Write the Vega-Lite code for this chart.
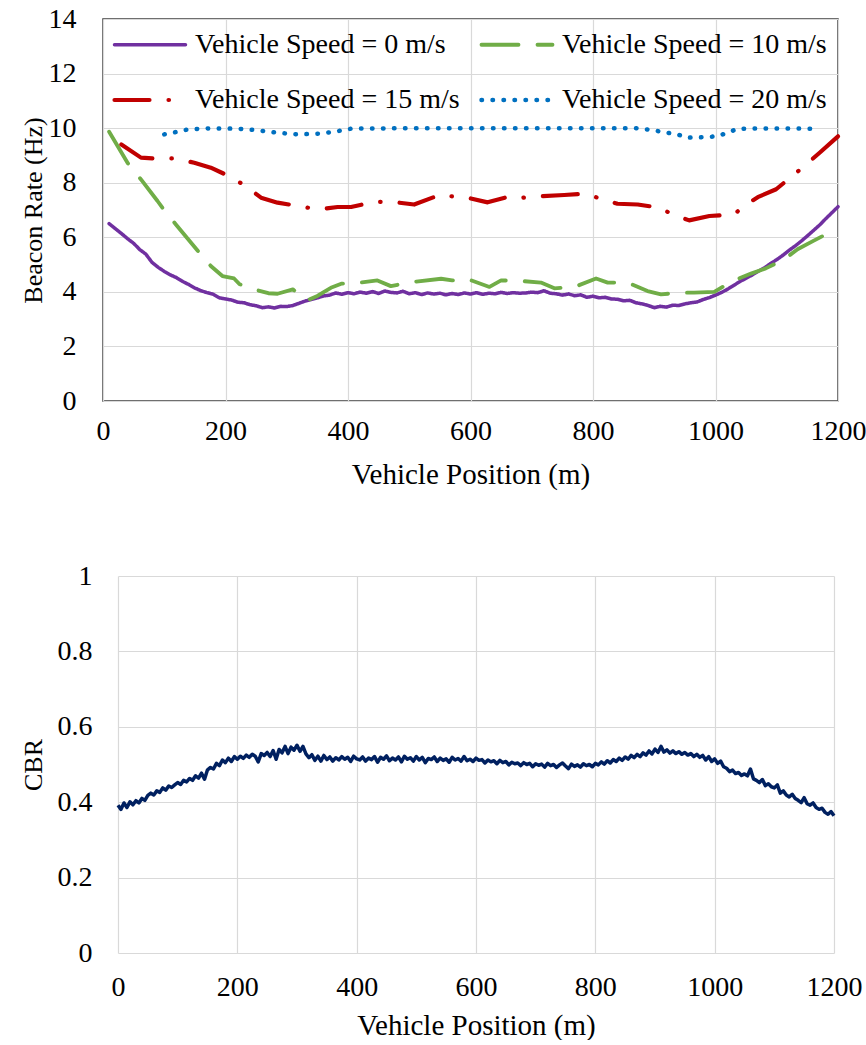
{
  "$schema": "https://vega.github.io/schema/vega-lite/v6.json",
  "padding": {"left": 19, "top": 4, "right": 0, "bottom": 0},
  "autosize": {"type": "pad"},
  "background": "white",
  "spacing": 72,
  "config": {
    "font": "Times New Roman, Liberation Serif, DejaVu Serif, serif",
    "view": {"stroke": "#404040", "strokeWidth": 1.5},
    "axis": {
      "labelFont": "Times New Roman, Liberation Serif, DejaVu Serif, serif",
      "titleFont": "Times New Roman, Liberation Serif, DejaVu Serif, serif",
      "labelFontSize": 28,
      "titleFontSize": 29,
      "labelColor": "#000000",
      "titleColor": "#000000",
      "titleFontWeight": "normal",
      "labelFlush": false,
      "domain": false,
      "ticks": false,
      "gridColor": "#d9d9d9",
      "gridWidth": 1.2
    },
    "legend": {
      "labelFont": "Times New Roman, Liberation Serif, DejaVu Serif, serif"
    }
  },
  "datasets": {
    "rate": [
      {"x": 10, "rate": 6.50, "series": "Vehicle Speed = 0 m/s"},
      {"x": 20, "rate": 6.32, "series": "Vehicle Speed = 0 m/s"},
      {"x": 30, "rate": 6.14, "series": "Vehicle Speed = 0 m/s"},
      {"x": 40, "rate": 5.95, "series": "Vehicle Speed = 0 m/s"},
      {"x": 50, "rate": 5.78, "series": "Vehicle Speed = 0 m/s"},
      {"x": 60, "rate": 5.55, "series": "Vehicle Speed = 0 m/s"},
      {"x": 70, "rate": 5.38, "series": "Vehicle Speed = 0 m/s"},
      {"x": 80, "rate": 5.08, "series": "Vehicle Speed = 0 m/s"},
      {"x": 90, "rate": 4.90, "series": "Vehicle Speed = 0 m/s"},
      {"x": 100, "rate": 4.75, "series": "Vehicle Speed = 0 m/s"},
      {"x": 110, "rate": 4.62, "series": "Vehicle Speed = 0 m/s"},
      {"x": 120, "rate": 4.52, "series": "Vehicle Speed = 0 m/s"},
      {"x": 130, "rate": 4.38, "series": "Vehicle Speed = 0 m/s"},
      {"x": 140, "rate": 4.27, "series": "Vehicle Speed = 0 m/s"},
      {"x": 150, "rate": 4.14, "series": "Vehicle Speed = 0 m/s"},
      {"x": 160, "rate": 4.04, "series": "Vehicle Speed = 0 m/s"},
      {"x": 170, "rate": 3.97, "series": "Vehicle Speed = 0 m/s"},
      {"x": 180, "rate": 3.91, "series": "Vehicle Speed = 0 m/s"},
      {"x": 190, "rate": 3.78, "series": "Vehicle Speed = 0 m/s"},
      {"x": 200, "rate": 3.74, "series": "Vehicle Speed = 0 m/s"},
      {"x": 210, "rate": 3.70, "series": "Vehicle Speed = 0 m/s"},
      {"x": 220, "rate": 3.62, "series": "Vehicle Speed = 0 m/s"},
      {"x": 230, "rate": 3.60, "series": "Vehicle Speed = 0 m/s"},
      {"x": 240, "rate": 3.53, "series": "Vehicle Speed = 0 m/s"},
      {"x": 250, "rate": 3.49, "series": "Vehicle Speed = 0 m/s"},
      {"x": 260, "rate": 3.42, "series": "Vehicle Speed = 0 m/s"},
      {"x": 270, "rate": 3.45, "series": "Vehicle Speed = 0 m/s"},
      {"x": 280, "rate": 3.41, "series": "Vehicle Speed = 0 m/s"},
      {"x": 290, "rate": 3.47, "series": "Vehicle Speed = 0 m/s"},
      {"x": 300, "rate": 3.46, "series": "Vehicle Speed = 0 m/s"},
      {"x": 310, "rate": 3.50, "series": "Vehicle Speed = 0 m/s"},
      {"x": 320, "rate": 3.58, "series": "Vehicle Speed = 0 m/s"},
      {"x": 330, "rate": 3.66, "series": "Vehicle Speed = 0 m/s"},
      {"x": 340, "rate": 3.72, "series": "Vehicle Speed = 0 m/s"},
      {"x": 350, "rate": 3.78, "series": "Vehicle Speed = 0 m/s"},
      {"x": 360, "rate": 3.85, "series": "Vehicle Speed = 0 m/s"},
      {"x": 370, "rate": 3.88, "series": "Vehicle Speed = 0 m/s"},
      {"x": 380, "rate": 3.96, "series": "Vehicle Speed = 0 m/s"},
      {"x": 390, "rate": 3.91, "series": "Vehicle Speed = 0 m/s"},
      {"x": 400, "rate": 3.97, "series": "Vehicle Speed = 0 m/s"},
      {"x": 410, "rate": 3.93, "series": "Vehicle Speed = 0 m/s"},
      {"x": 420, "rate": 3.99, "series": "Vehicle Speed = 0 m/s"},
      {"x": 430, "rate": 3.95, "series": "Vehicle Speed = 0 m/s"},
      {"x": 440, "rate": 4.01, "series": "Vehicle Speed = 0 m/s"},
      {"x": 450, "rate": 3.94, "series": "Vehicle Speed = 0 m/s"},
      {"x": 460, "rate": 4.03, "series": "Vehicle Speed = 0 m/s"},
      {"x": 470, "rate": 3.98, "series": "Vehicle Speed = 0 m/s"},
      {"x": 480, "rate": 3.96, "series": "Vehicle Speed = 0 m/s"},
      {"x": 490, "rate": 4.02, "series": "Vehicle Speed = 0 m/s"},
      {"x": 500, "rate": 3.93, "series": "Vehicle Speed = 0 m/s"},
      {"x": 510, "rate": 3.97, "series": "Vehicle Speed = 0 m/s"},
      {"x": 520, "rate": 3.90, "series": "Vehicle Speed = 0 m/s"},
      {"x": 530, "rate": 3.96, "series": "Vehicle Speed = 0 m/s"},
      {"x": 540, "rate": 3.92, "series": "Vehicle Speed = 0 m/s"},
      {"x": 550, "rate": 3.95, "series": "Vehicle Speed = 0 m/s"},
      {"x": 560, "rate": 3.89, "series": "Vehicle Speed = 0 m/s"},
      {"x": 570, "rate": 3.94, "series": "Vehicle Speed = 0 m/s"},
      {"x": 580, "rate": 3.90, "series": "Vehicle Speed = 0 m/s"},
      {"x": 590, "rate": 3.96, "series": "Vehicle Speed = 0 m/s"},
      {"x": 600, "rate": 3.92, "series": "Vehicle Speed = 0 m/s"},
      {"x": 610, "rate": 3.97, "series": "Vehicle Speed = 0 m/s"},
      {"x": 620, "rate": 3.91, "series": "Vehicle Speed = 0 m/s"},
      {"x": 630, "rate": 3.95, "series": "Vehicle Speed = 0 m/s"},
      {"x": 640, "rate": 3.93, "series": "Vehicle Speed = 0 m/s"},
      {"x": 650, "rate": 3.98, "series": "Vehicle Speed = 0 m/s"},
      {"x": 660, "rate": 3.94, "series": "Vehicle Speed = 0 m/s"},
      {"x": 670, "rate": 3.97, "series": "Vehicle Speed = 0 m/s"},
      {"x": 680, "rate": 3.95, "series": "Vehicle Speed = 0 m/s"},
      {"x": 690, "rate": 3.96, "series": "Vehicle Speed = 0 m/s"},
      {"x": 700, "rate": 3.99, "series": "Vehicle Speed = 0 m/s"},
      {"x": 710, "rate": 3.97, "series": "Vehicle Speed = 0 m/s"},
      {"x": 720, "rate": 4.04, "series": "Vehicle Speed = 0 m/s"},
      {"x": 730, "rate": 3.95, "series": "Vehicle Speed = 0 m/s"},
      {"x": 740, "rate": 3.93, "series": "Vehicle Speed = 0 m/s"},
      {"x": 750, "rate": 3.88, "series": "Vehicle Speed = 0 m/s"},
      {"x": 760, "rate": 3.92, "series": "Vehicle Speed = 0 m/s"},
      {"x": 770, "rate": 3.86, "series": "Vehicle Speed = 0 m/s"},
      {"x": 780, "rate": 3.89, "series": "Vehicle Speed = 0 m/s"},
      {"x": 790, "rate": 3.80, "series": "Vehicle Speed = 0 m/s"},
      {"x": 800, "rate": 3.84, "series": "Vehicle Speed = 0 m/s"},
      {"x": 810, "rate": 3.78, "series": "Vehicle Speed = 0 m/s"},
      {"x": 820, "rate": 3.80, "series": "Vehicle Speed = 0 m/s"},
      {"x": 830, "rate": 3.74, "series": "Vehicle Speed = 0 m/s"},
      {"x": 840, "rate": 3.73, "series": "Vehicle Speed = 0 m/s"},
      {"x": 850, "rate": 3.67, "series": "Vehicle Speed = 0 m/s"},
      {"x": 860, "rate": 3.69, "series": "Vehicle Speed = 0 m/s"},
      {"x": 870, "rate": 3.60, "series": "Vehicle Speed = 0 m/s"},
      {"x": 880, "rate": 3.56, "series": "Vehicle Speed = 0 m/s"},
      {"x": 890, "rate": 3.50, "series": "Vehicle Speed = 0 m/s"},
      {"x": 900, "rate": 3.42, "series": "Vehicle Speed = 0 m/s"},
      {"x": 910, "rate": 3.47, "series": "Vehicle Speed = 0 m/s"},
      {"x": 920, "rate": 3.44, "series": "Vehicle Speed = 0 m/s"},
      {"x": 930, "rate": 3.51, "series": "Vehicle Speed = 0 m/s"},
      {"x": 940, "rate": 3.50, "series": "Vehicle Speed = 0 m/s"},
      {"x": 950, "rate": 3.56, "series": "Vehicle Speed = 0 m/s"},
      {"x": 960, "rate": 3.60, "series": "Vehicle Speed = 0 m/s"},
      {"x": 970, "rate": 3.63, "series": "Vehicle Speed = 0 m/s"},
      {"x": 980, "rate": 3.72, "series": "Vehicle Speed = 0 m/s"},
      {"x": 990, "rate": 3.79, "series": "Vehicle Speed = 0 m/s"},
      {"x": 1000, "rate": 3.88, "series": "Vehicle Speed = 0 m/s"},
      {"x": 1010, "rate": 3.98, "series": "Vehicle Speed = 0 m/s"},
      {"x": 1020, "rate": 4.10, "series": "Vehicle Speed = 0 m/s"},
      {"x": 1030, "rate": 4.24, "series": "Vehicle Speed = 0 m/s"},
      {"x": 1040, "rate": 4.38, "series": "Vehicle Speed = 0 m/s"},
      {"x": 1050, "rate": 4.50, "series": "Vehicle Speed = 0 m/s"},
      {"x": 1060, "rate": 4.62, "series": "Vehicle Speed = 0 m/s"},
      {"x": 1070, "rate": 4.76, "series": "Vehicle Speed = 0 m/s"},
      {"x": 1080, "rate": 4.88, "series": "Vehicle Speed = 0 m/s"},
      {"x": 1090, "rate": 5.04, "series": "Vehicle Speed = 0 m/s"},
      {"x": 1100, "rate": 5.18, "series": "Vehicle Speed = 0 m/s"},
      {"x": 1110, "rate": 5.34, "series": "Vehicle Speed = 0 m/s"},
      {"x": 1120, "rate": 5.52, "series": "Vehicle Speed = 0 m/s"},
      {"x": 1130, "rate": 5.68, "series": "Vehicle Speed = 0 m/s"},
      {"x": 1140, "rate": 5.86, "series": "Vehicle Speed = 0 m/s"},
      {"x": 1150, "rate": 6.05, "series": "Vehicle Speed = 0 m/s"},
      {"x": 1160, "rate": 6.25, "series": "Vehicle Speed = 0 m/s"},
      {"x": 1170, "rate": 6.45, "series": "Vehicle Speed = 0 m/s"},
      {"x": 1180, "rate": 6.68, "series": "Vehicle Speed = 0 m/s"},
      {"x": 1190, "rate": 6.90, "series": "Vehicle Speed = 0 m/s"},
      {"x": 1200, "rate": 7.12, "series": "Vehicle Speed = 0 m/s"},

      {"x": 10, "rate": 9.87, "series": "Vehicle Speed = 10 m/s"},
      {"x": 40, "rate": 8.73, "series": "Vehicle Speed = 10 m/s"},
      {"x": 62, "rate": 8.12, "series": "Vehicle Speed = 10 m/s"},
      {"x": 89, "rate": 7.33, "series": "Vehicle Speed = 10 m/s"},
      {"x": 97, "rate": 7.08, "series": "Vehicle Speed = 10 m/s"},
      {"x": 119, "rate": 6.47, "series": "Vehicle Speed = 10 m/s"},
      {"x": 155, "rate": 5.50, "series": "Vehicle Speed = 10 m/s"},
      {"x": 176, "rate": 4.95, "series": "Vehicle Speed = 10 m/s"},
      {"x": 195, "rate": 4.58, "series": "Vehicle Speed = 10 m/s"},
      {"x": 214, "rate": 4.49, "series": "Vehicle Speed = 10 m/s"},
      {"x": 223, "rate": 4.28, "series": "Vehicle Speed = 10 m/s"},
      {"x": 252, "rate": 4.06, "series": "Vehicle Speed = 10 m/s"},
      {"x": 270, "rate": 3.95, "series": "Vehicle Speed = 10 m/s"},
      {"x": 285, "rate": 3.93, "series": "Vehicle Speed = 10 m/s"},
      {"x": 310, "rate": 4.09, "series": "Vehicle Speed = 10 m/s"},
      {"x": 334, "rate": 3.69, "series": "Vehicle Speed = 10 m/s"},
      {"x": 350, "rate": 3.85, "series": "Vehicle Speed = 10 m/s"},
      {"x": 372, "rate": 4.15, "series": "Vehicle Speed = 10 m/s"},
      {"x": 389, "rate": 4.30, "series": "Vehicle Speed = 10 m/s"},
      {"x": 421, "rate": 4.34, "series": "Vehicle Speed = 10 m/s"},
      {"x": 448, "rate": 4.42, "series": "Vehicle Speed = 10 m/s"},
      {"x": 470, "rate": 4.21, "series": "Vehicle Speed = 10 m/s"},
      {"x": 490, "rate": 4.30, "series": "Vehicle Speed = 10 m/s"},
      {"x": 508, "rate": 4.37, "series": "Vehicle Speed = 10 m/s"},
      {"x": 552, "rate": 4.48, "series": "Vehicle Speed = 10 m/s"},
      {"x": 570, "rate": 4.42, "series": "Vehicle Speed = 10 m/s"},
      {"x": 595, "rate": 4.47, "series": "Vehicle Speed = 10 m/s"},
      {"x": 631, "rate": 4.18, "series": "Vehicle Speed = 10 m/s"},
      {"x": 650, "rate": 4.42, "series": "Vehicle Speed = 10 m/s"},
      {"x": 682, "rate": 4.40, "series": "Vehicle Speed = 10 m/s"},
      {"x": 715, "rate": 4.34, "series": "Vehicle Speed = 10 m/s"},
      {"x": 737, "rate": 4.13, "series": "Vehicle Speed = 10 m/s"},
      {"x": 770, "rate": 4.18, "series": "Vehicle Speed = 10 m/s"},
      {"x": 805, "rate": 4.49, "series": "Vehicle Speed = 10 m/s"},
      {"x": 824, "rate": 4.34, "series": "Vehicle Speed = 10 m/s"},
      {"x": 857, "rate": 4.34, "series": "Vehicle Speed = 10 m/s"},
      {"x": 889, "rate": 4.03, "series": "Vehicle Speed = 10 m/s"},
      {"x": 911, "rate": 3.91, "series": "Vehicle Speed = 10 m/s"},
      {"x": 944, "rate": 3.97, "series": "Vehicle Speed = 10 m/s"},
      {"x": 965, "rate": 3.97, "series": "Vehicle Speed = 10 m/s"},
      {"x": 998, "rate": 4.00, "series": "Vehicle Speed = 10 m/s"},
      {"x": 1028, "rate": 4.40, "series": "Vehicle Speed = 10 m/s"},
      {"x": 1058, "rate": 4.67, "series": "Vehicle Speed = 10 m/s"},
      {"x": 1082, "rate": 4.86, "series": "Vehicle Speed = 10 m/s"},
      {"x": 1112, "rate": 5.19, "series": "Vehicle Speed = 10 m/s"},
      {"x": 1134, "rate": 5.56, "series": "Vehicle Speed = 10 m/s"},
      {"x": 1159, "rate": 5.86, "series": "Vehicle Speed = 10 m/s"},
      {"x": 1191, "rate": 6.23, "series": "Vehicle Speed = 10 m/s"},
      {"x": 1200, "rate": 6.30, "series": "Vehicle Speed = 10 m/s"},

      {"x": 30, "rate": 9.40, "series": "Vehicle Speed = 15 m/s"},
      {"x": 62, "rate": 8.92, "series": "Vehicle Speed = 15 m/s"},
      {"x": 84, "rate": 8.89, "series": "Vehicle Speed = 15 m/s"},
      {"x": 119, "rate": 8.89, "series": "Vehicle Speed = 15 m/s"},
      {"x": 149, "rate": 8.73, "series": "Vehicle Speed = 15 m/s"},
      {"x": 176, "rate": 8.55, "series": "Vehicle Speed = 15 m/s"},
      {"x": 206, "rate": 8.24, "series": "Vehicle Speed = 15 m/s"},
      {"x": 233, "rate": 7.88, "series": "Vehicle Speed = 15 m/s"},
      {"x": 258, "rate": 7.45, "series": "Vehicle Speed = 15 m/s"},
      {"x": 285, "rate": 7.27, "series": "Vehicle Speed = 15 m/s"},
      {"x": 318, "rate": 7.15, "series": "Vehicle Speed = 15 m/s"},
      {"x": 350, "rate": 7.02, "series": "Vehicle Speed = 15 m/s"},
      {"x": 383, "rate": 7.11, "series": "Vehicle Speed = 15 m/s"},
      {"x": 405, "rate": 7.11, "series": "Vehicle Speed = 15 m/s"},
      {"x": 443, "rate": 7.30, "series": "Vehicle Speed = 15 m/s"},
      {"x": 476, "rate": 7.29, "series": "Vehicle Speed = 15 m/s"},
      {"x": 508, "rate": 7.20, "series": "Vehicle Speed = 15 m/s"},
      {"x": 552, "rate": 7.57, "series": "Vehicle Speed = 15 m/s"},
      {"x": 565, "rate": 7.51, "series": "Vehicle Speed = 15 m/s"},
      {"x": 595, "rate": 7.45, "series": "Vehicle Speed = 15 m/s"},
      {"x": 628, "rate": 7.28, "series": "Vehicle Speed = 15 m/s"},
      {"x": 666, "rate": 7.51, "series": "Vehicle Speed = 15 m/s"},
      {"x": 685, "rate": 7.45, "series": "Vehicle Speed = 15 m/s"},
      {"x": 718, "rate": 7.51, "series": "Vehicle Speed = 15 m/s"},
      {"x": 753, "rate": 7.55, "series": "Vehicle Speed = 15 m/s"},
      {"x": 791, "rate": 7.60, "series": "Vehicle Speed = 15 m/s"},
      {"x": 807, "rate": 7.45, "series": "Vehicle Speed = 15 m/s"},
      {"x": 840, "rate": 7.23, "series": "Vehicle Speed = 15 m/s"},
      {"x": 873, "rate": 7.20, "series": "Vehicle Speed = 15 m/s"},
      {"x": 911, "rate": 7.08, "series": "Vehicle Speed = 15 m/s"},
      {"x": 927, "rate": 6.86, "series": "Vehicle Speed = 15 m/s"},
      {"x": 957, "rate": 6.62, "series": "Vehicle Speed = 15 m/s"},
      {"x": 990, "rate": 6.78, "series": "Vehicle Speed = 15 m/s"},
      {"x": 1031, "rate": 6.84, "series": "Vehicle Speed = 15 m/s"},
      {"x": 1044, "rate": 7.11, "series": "Vehicle Speed = 15 m/s"},
      {"x": 1069, "rate": 7.47, "series": "Vehicle Speed = 15 m/s"},
      {"x": 1099, "rate": 7.76, "series": "Vehicle Speed = 15 m/s"},
      {"x": 1145, "rate": 8.61, "series": "Vehicle Speed = 15 m/s"},
      {"x": 1170, "rate": 9.10, "series": "Vehicle Speed = 15 m/s"},
      {"x": 1200, "rate": 9.70, "series": "Vehicle Speed = 15 m/s"},

      {"x": 100, "rate": 9.77, "series": "Vehicle Speed = 20 m/s"},
      {"x": 122, "rate": 9.87, "series": "Vehicle Speed = 20 m/s"},
      {"x": 138, "rate": 9.95, "series": "Vehicle Speed = 20 m/s"},
      {"x": 171, "rate": 9.99, "series": "Vehicle Speed = 20 m/s"},
      {"x": 220, "rate": 9.98, "series": "Vehicle Speed = 20 m/s"},
      {"x": 253, "rate": 9.92, "series": "Vehicle Speed = 20 m/s"},
      {"x": 285, "rate": 9.83, "series": "Vehicle Speed = 20 m/s"},
      {"x": 318, "rate": 9.77, "series": "Vehicle Speed = 20 m/s"},
      {"x": 356, "rate": 9.80, "series": "Vehicle Speed = 20 m/s"},
      {"x": 383, "rate": 9.89, "series": "Vehicle Speed = 20 m/s"},
      {"x": 405, "rate": 9.98, "series": "Vehicle Speed = 20 m/s"},
      {"x": 500, "rate": 10.0, "series": "Vehicle Speed = 20 m/s"},
      {"x": 700, "rate": 10.0, "series": "Vehicle Speed = 20 m/s"},
      {"x": 870, "rate": 10.0, "series": "Vehicle Speed = 20 m/s"},
      {"x": 889, "rate": 9.95, "series": "Vehicle Speed = 20 m/s"},
      {"x": 906, "rate": 9.89, "series": "Vehicle Speed = 20 m/s"},
      {"x": 938, "rate": 9.77, "series": "Vehicle Speed = 20 m/s"},
      {"x": 954, "rate": 9.65, "series": "Vehicle Speed = 20 m/s"},
      {"x": 987, "rate": 9.67, "series": "Vehicle Speed = 20 m/s"},
      {"x": 1003, "rate": 9.71, "series": "Vehicle Speed = 20 m/s"},
      {"x": 1020, "rate": 9.83, "series": "Vehicle Speed = 20 m/s"},
      {"x": 1036, "rate": 9.98, "series": "Vehicle Speed = 20 m/s"},
      {"x": 1100, "rate": 9.99, "series": "Vehicle Speed = 20 m/s"},
      {"x": 1160, "rate": 9.98, "series": "Vehicle Speed = 20 m/s"}
    ],
    "cbr": [
      {"x": 0, "c": 0.392}, {"x": 5, "c": 0.381}, {"x": 10, "c": 0.398}, {"x": 15, "c": 0.386}, {"x": 20, "c": 0.401},
      {"x": 25, "c": 0.393}, {"x": 30, "c": 0.404}, {"x": 35, "c": 0.398}, {"x": 40, "c": 0.410}, {"x": 45, "c": 0.405},
      {"x": 50, "c": 0.418}, {"x": 55, "c": 0.424}, {"x": 60, "c": 0.419}, {"x": 65, "c": 0.430}, {"x": 70, "c": 0.426},
      {"x": 75, "c": 0.438}, {"x": 80, "c": 0.432}, {"x": 85, "c": 0.443}, {"x": 90, "c": 0.439}, {"x": 95, "c": 0.446},
      {"x": 100, "c": 0.452}, {"x": 105, "c": 0.447}, {"x": 110, "c": 0.458}, {"x": 115, "c": 0.454}, {"x": 120, "c": 0.463},
      {"x": 125, "c": 0.458}, {"x": 130, "c": 0.470}, {"x": 135, "c": 0.464}, {"x": 140, "c": 0.477}, {"x": 145, "c": 0.461},
      {"x": 150, "c": 0.486}, {"x": 155, "c": 0.492}, {"x": 160, "c": 0.488}, {"x": 165, "c": 0.503}, {"x": 170, "c": 0.497},
      {"x": 175, "c": 0.512}, {"x": 180, "c": 0.505}, {"x": 185, "c": 0.517}, {"x": 190, "c": 0.508}, {"x": 195, "c": 0.521},
      {"x": 200, "c": 0.514}, {"x": 205, "c": 0.522}, {"x": 210, "c": 0.516}, {"x": 215, "c": 0.525}, {"x": 220, "c": 0.519},
      {"x": 225, "c": 0.527}, {"x": 230, "c": 0.522}, {"x": 235, "c": 0.507}, {"x": 240, "c": 0.529}, {"x": 245, "c": 0.524},
      {"x": 250, "c": 0.532}, {"x": 255, "c": 0.521}, {"x": 260, "c": 0.537}, {"x": 265, "c": 0.514}, {"x": 270, "c": 0.540},
      {"x": 275, "c": 0.531}, {"x": 280, "c": 0.548}, {"x": 285, "c": 0.529}, {"x": 290, "c": 0.546}, {"x": 295, "c": 0.538},
      {"x": 300, "c": 0.551}, {"x": 305, "c": 0.535}, {"x": 310, "c": 0.548}, {"x": 315, "c": 0.528}, {"x": 320, "c": 0.518},
      {"x": 325, "c": 0.526}, {"x": 330, "c": 0.511}, {"x": 335, "c": 0.522}, {"x": 340, "c": 0.509}, {"x": 345, "c": 0.524},
      {"x": 350, "c": 0.513}, {"x": 355, "c": 0.520}, {"x": 360, "c": 0.509}, {"x": 365, "c": 0.518}, {"x": 370, "c": 0.512},
      {"x": 375, "c": 0.521}, {"x": 380, "c": 0.514}, {"x": 385, "c": 0.519}, {"x": 390, "c": 0.508}, {"x": 395, "c": 0.522},
      {"x": 400, "c": 0.515}, {"x": 405, "c": 0.512}, {"x": 410, "c": 0.520}, {"x": 415, "c": 0.509}, {"x": 420, "c": 0.517},
      {"x": 425, "c": 0.513}, {"x": 430, "c": 0.521}, {"x": 435, "c": 0.506}, {"x": 440, "c": 0.519}, {"x": 445, "c": 0.514},
      {"x": 450, "c": 0.523}, {"x": 455, "c": 0.510}, {"x": 460, "c": 0.517}, {"x": 465, "c": 0.512}, {"x": 470, "c": 0.520},
      {"x": 475, "c": 0.507}, {"x": 480, "c": 0.522}, {"x": 485, "c": 0.514}, {"x": 490, "c": 0.518}, {"x": 495, "c": 0.509},
      {"x": 500, "c": 0.521}, {"x": 505, "c": 0.512}, {"x": 510, "c": 0.519}, {"x": 515, "c": 0.505}, {"x": 520, "c": 0.516},
      {"x": 525, "c": 0.513}, {"x": 530, "c": 0.520}, {"x": 535, "c": 0.508}, {"x": 540, "c": 0.517}, {"x": 545, "c": 0.511},
      {"x": 550, "c": 0.515}, {"x": 555, "c": 0.506}, {"x": 560, "c": 0.519}, {"x": 565, "c": 0.512}, {"x": 570, "c": 0.516},
      {"x": 575, "c": 0.509}, {"x": 580, "c": 0.521}, {"x": 585, "c": 0.510}, {"x": 590, "c": 0.514}, {"x": 595, "c": 0.508},
      {"x": 600, "c": 0.517}, {"x": 605, "c": 0.511}, {"x": 610, "c": 0.513}, {"x": 615, "c": 0.504}, {"x": 620, "c": 0.512},
      {"x": 625, "c": 0.507}, {"x": 630, "c": 0.510}, {"x": 635, "c": 0.502}, {"x": 640, "c": 0.511}, {"x": 645, "c": 0.505},
      {"x": 650, "c": 0.508}, {"x": 655, "c": 0.499}, {"x": 660, "c": 0.506}, {"x": 665, "c": 0.502}, {"x": 670, "c": 0.504},
      {"x": 675, "c": 0.497}, {"x": 680, "c": 0.505}, {"x": 685, "c": 0.500}, {"x": 690, "c": 0.503}, {"x": 695, "c": 0.494},
      {"x": 700, "c": 0.502}, {"x": 705, "c": 0.498}, {"x": 710, "c": 0.501}, {"x": 715, "c": 0.493}, {"x": 720, "c": 0.503},
      {"x": 725, "c": 0.497}, {"x": 730, "c": 0.500}, {"x": 735, "c": 0.492}, {"x": 740, "c": 0.499}, {"x": 745, "c": 0.504},
      {"x": 750, "c": 0.496}, {"x": 755, "c": 0.489}, {"x": 760, "c": 0.501}, {"x": 765, "c": 0.495}, {"x": 770, "c": 0.499},
      {"x": 775, "c": 0.493}, {"x": 780, "c": 0.502}, {"x": 785, "c": 0.497}, {"x": 790, "c": 0.500}, {"x": 795, "c": 0.494},
      {"x": 800, "c": 0.503}, {"x": 805, "c": 0.499}, {"x": 810, "c": 0.507}, {"x": 815, "c": 0.501}, {"x": 820, "c": 0.510},
      {"x": 825, "c": 0.504}, {"x": 830, "c": 0.513}, {"x": 835, "c": 0.508}, {"x": 840, "c": 0.517}, {"x": 845, "c": 0.511},
      {"x": 850, "c": 0.520}, {"x": 855, "c": 0.514}, {"x": 860, "c": 0.524}, {"x": 865, "c": 0.518}, {"x": 870, "c": 0.527},
      {"x": 875, "c": 0.521}, {"x": 880, "c": 0.531}, {"x": 885, "c": 0.525}, {"x": 890, "c": 0.536}, {"x": 895, "c": 0.528},
      {"x": 900, "c": 0.541}, {"x": 905, "c": 0.532}, {"x": 910, "c": 0.548}, {"x": 915, "c": 0.533}, {"x": 920, "c": 0.539},
      {"x": 925, "c": 0.530}, {"x": 930, "c": 0.536}, {"x": 935, "c": 0.529}, {"x": 940, "c": 0.534}, {"x": 945, "c": 0.527},
      {"x": 950, "c": 0.532}, {"x": 955, "c": 0.525}, {"x": 960, "c": 0.529}, {"x": 965, "c": 0.521}, {"x": 970, "c": 0.527},
      {"x": 975, "c": 0.519}, {"x": 980, "c": 0.524}, {"x": 985, "c": 0.512}, {"x": 990, "c": 0.521}, {"x": 995, "c": 0.508},
      {"x": 1000, "c": 0.515}, {"x": 1005, "c": 0.503}, {"x": 1010, "c": 0.509}, {"x": 1015, "c": 0.494}, {"x": 1020, "c": 0.490},
      {"x": 1025, "c": 0.481}, {"x": 1030, "c": 0.485}, {"x": 1035, "c": 0.476}, {"x": 1040, "c": 0.479}, {"x": 1045, "c": 0.471},
      {"x": 1050, "c": 0.475}, {"x": 1055, "c": 0.470}, {"x": 1060, "c": 0.488}, {"x": 1065, "c": 0.462}, {"x": 1070, "c": 0.458},
      {"x": 1075, "c": 0.452}, {"x": 1080, "c": 0.460}, {"x": 1085, "c": 0.444}, {"x": 1090, "c": 0.449}, {"x": 1095, "c": 0.441},
      {"x": 1100, "c": 0.438}, {"x": 1105, "c": 0.446}, {"x": 1110, "c": 0.424}, {"x": 1115, "c": 0.430}, {"x": 1120, "c": 0.419},
      {"x": 1125, "c": 0.414}, {"x": 1130, "c": 0.421}, {"x": 1135, "c": 0.410}, {"x": 1140, "c": 0.405}, {"x": 1145, "c": 0.399},
      {"x": 1150, "c": 0.412}, {"x": 1155, "c": 0.396}, {"x": 1160, "c": 0.392}, {"x": 1165, "c": 0.398}, {"x": 1170, "c": 0.386},
      {"x": 1175, "c": 0.381}, {"x": 1180, "c": 0.384}, {"x": 1185, "c": 0.373}, {"x": 1190, "c": 0.368}, {"x": 1195, "c": 0.375},
      {"x": 1200, "c": 0.364}
    ]
  },
  "vconcat": [
    {
      "width": 735,
      "height": 382,
      "data": {"name": "rate"},
      "mark": {"type": "line", "strokeCap": "round", "strokeJoin": "round"},
      "encoding": {
        "x": {
          "field": "x", "type": "quantitative",
          "scale": {"domain": [0, 1200], "nice": false},
          "axis": {"values": [0, 200, 400, 600, 800, 1000, 1200], "format": "d", "labelPadding": 16, "title": "Vehicle Position (m)", "titlePadding": 15}
        },
        "y": {
          "field": "rate", "type": "quantitative",
          "scale": {"domain": [0, 14], "nice": false},
          "axis": {"values": [0, 2, 4, 6, 8, 10, 12, 14], "labelPadding": 27, "title": "Beacon Rate (Hz)", "titleFontSize": 26, "titlePadding": 2}
        },
        "color": {
          "field": "series", "type": "nominal",
          "scale": {
            "domain": ["Vehicle Speed = 0 m/s", "Vehicle Speed = 10 m/s", "Vehicle Speed = 15 m/s", "Vehicle Speed = 20 m/s"],
            "range": ["#7030A0", "#70AD47", "#C00000", "#0070C0"]
          },
          "legend": {
            "orient": "none", "legendX": 9, "legendY": -12, "columns": 2, "direction": "horizontal", "title": null,
            "symbolType": "stroke", "symbolSize": 5041, "symbolStrokeWidth": 4,
            "labelFont": "Times New Roman, Liberation Serif, DejaVu Serif, serif", "labelFontSize": 28, "labelColor": "#000000", "labelLimit": 400,
            "labelOffset": 7, "columnPadding": 12, "rowPadding": 3, "padding": 0,
            "encode": {"symbols": {"update": {"strokeCap": {"value": "round"}}}}
          }
        },
        "strokeDash": {
          "field": "series", "type": "nominal",
          "scale": {
            "domain": ["Vehicle Speed = 0 m/s", "Vehicle Speed = 10 m/s", "Vehicle Speed = 15 m/s", "Vehicle Speed = 20 m/s"],
            "range": [[1, 0], [37, 19], [35, 19, 0.5, 19], [0.5, 10.5]]
          }
        },
        "strokeWidth": {
          "field": "series", "type": "nominal",
          "scale": {
            "domain": ["Vehicle Speed = 0 m/s", "Vehicle Speed = 10 m/s", "Vehicle Speed = 15 m/s", "Vehicle Speed = 20 m/s"],
            "range": [3.5, 4.5, 4.5, 4]
          },
          "legend": null
        }
      }
    },
    {
      "width": 731,
      "height": 377,
      "view": {"stroke": null},
      "layer": [
        {
          "data": {"name": "cbr"},
          "mark": {"type": "line", "color": "#002060", "strokeWidth": 3.5, "strokeJoin": "round"},
          "encoding": {
            "x": {
              "field": "x", "type": "quantitative",
              "scale": {"domain": [0, 1200], "nice": false, "range": [15, 731]},
              "axis": {"values": [0, 200, 400, 600, 800, 1000, 1200], "format": "d", "labelPadding": 20, "title": "Vehicle Position (m)", "titlePadding": 10}
            },
            "y": {
              "field": "c", "type": "quantitative",
              "scale": {"domain": [0, 1], "nice": false},
              "axis": {"values": [0, 0.2, 0.4, 0.6, 0.8, 1], "format": "~g", "labelPadding": 11, "title": "CBR", "titleFontSize": 26, "titlePadding": 11}
            }
          }
        },
        {
          "mark": {"type": "rule", "color": "#404040", "strokeWidth": 1.5},
          "encoding": {"x": {"datum": 0}, "y": {"datum": 0}, "y2": {"datum": 1}}
        },
        {
          "mark": {"type": "rule", "color": "#404040", "strokeWidth": 1.5},
          "encoding": {"x": {"datum": 1200}, "y": {"datum": 0}, "y2": {"datum": 1}}
        },
        {
          "mark": {"type": "rule", "color": "#404040", "strokeWidth": 1.5},
          "encoding": {"y": {"datum": 0}, "x": {"datum": 0}, "x2": {"datum": 1200}}
        },
        {
          "mark": {"type": "rule", "color": "#404040", "strokeWidth": 1.5},
          "encoding": {"y": {"datum": 1}, "x": {"datum": 0}, "x2": {"datum": 1200}}
        }
      ]
    }
  ]
}
